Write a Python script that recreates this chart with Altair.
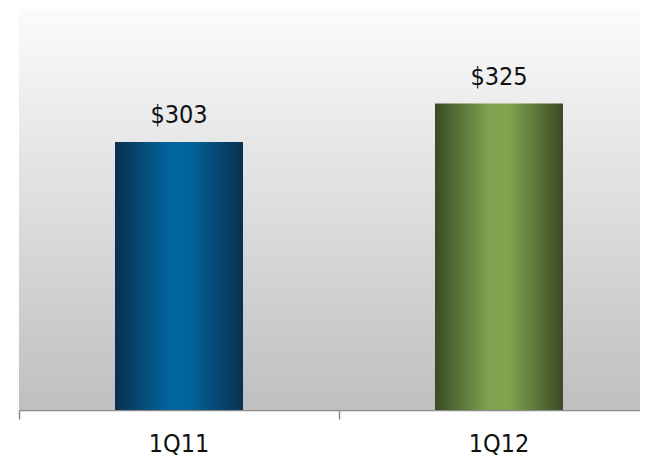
import altair as alt
import pandas as pd

quarters = ["1Q11", "1Q12"]
values = [303, 325]
labels = ["$303", "$325"]

df = pd.DataFrame({"quarter": quarters, "value": values, "label": labels})

PLOT_W = 621
PLOT_H = 401
Y_MIN = 150
Y_MAX = 379

xscale = alt.Scale(domain=quarters, range=[0, 640], paddingInner=0, paddingOuter=0)
yscale = alt.Scale(domain=[Y_MIN, Y_MAX], nice=False, zero=False)

def hgrad(edge, center):
    return alt.LinearGradient(
        gradient="linear",
        stops=[
            alt.GradientStop(color=edge, offset=0),
            alt.GradientStop(color=center, offset=0.42),
            alt.GradientStop(color=center, offset=0.58),
            alt.GradientStop(color=edge, offset=1),
        ],
        x1=0, x2=1, y1=0, y2=0,
    )

bg_grad = alt.LinearGradient(
    gradient="linear",
    stops=[
        alt.GradientStop(color="#fbfbfb", offset=0),
        alt.GradientStop(color="#bfbfbf", offset=1),
    ],
    x1=0, x2=0, y1=0, y2=1,
)

bg = alt.Chart(alt.Data(values=[{"a": 1}])).mark_rect(color=bg_grad).encode(
    x=alt.value(0), x2=alt.value(640), y=alt.value(0), y2=alt.value(PLOT_H)
)

base = alt.Chart(df)

xenc = alt.X(
    "quarter:N",
    scale=xscale,
    sort=quarters,
    axis=alt.Axis(
        title=None,
        labelAngle=0,
        labelFont="DejaVu Sans Condensed",
        labelFontSize=25,
        labelColor="#111111",
        labelPadding=12,
        bandPosition=0,
        tickSize=9,
        tickColor="#8c8c8c",
        tickWidth=1.5,
        domainColor="#8c8c8c",
        domainWidth=1.5,
        grid=False,
    ),
)
yenc = alt.Y("value:Q", scale=yscale, axis=None)

bar1 = base.transform_filter(alt.datum.quarter == "1Q11").mark_bar(
    color=hgrad("#0b2f4e", "#00659c"), width=alt.RelativeBandSize(0.4)
).encode(x=xenc, y=yenc, y2=alt.datum(Y_MIN))

bar2 = base.transform_filter(alt.datum.quarter == "1Q12").mark_bar(
    color=hgrad("#3a4a25", "#7fa34f"), width=alt.RelativeBandSize(0.4)
).encode(x=xenc, y=yenc, y2=alt.datum(Y_MIN))

text = base.mark_text(
    font="DejaVu Sans Condensed",
    fontSize=25,
    color="#111111",
    baseline="alphabetic",
    dy=-19,
).encode(x=alt.X("quarter:N", scale=xscale, sort=quarters), y=yenc, text="label:N")

chart = alt.layer(bg, bar1, bar2, text).properties(
    width=PLOT_W,
    height=PLOT_H,
    autosize=alt.AutoSizeParams(type="none"),
    padding={"left": 11, "top": 1, "right": 0, "bottom": 48},
).configure_view(stroke=None)

chart.save("out.html", embed_options={"renderer": "svg", "actions": False})
